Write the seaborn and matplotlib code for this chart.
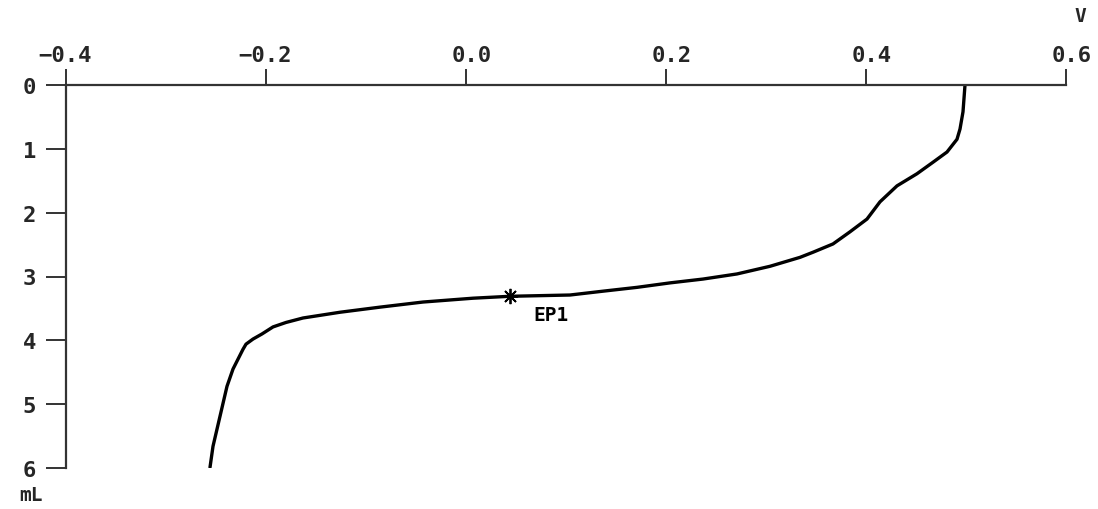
import matplotlib
matplotlib.use("Agg")
import matplotlib.pyplot as plt
import matplotlib.transforms as mtransforms
import seaborn as sns
import pandas as pd

# Titration curve: titrant volume (mL) vs. electrode potential (V)
volume_ml = [0.0, 0.42, 0.69, 0.85, 1.05, 1.21, 1.39, 1.58, 1.83, 2.10, 2.30, 2.49,
             2.62, 2.70, 2.84, 2.96, 3.04, 3.10, 3.17, 3.23, 3.29, 3.31, 3.34, 3.40,
             3.48, 3.56, 3.65, 3.72, 3.79, 3.90, 3.98, 4.06, 4.14, 4.45, 4.72, 5.19,
             5.66, 5.99]
potential_v = [0.499, 0.497, 0.494, 0.491, 0.481, 0.467, 0.451, 0.431, 0.414, 0.401,
               0.384, 0.367, 0.347, 0.334, 0.304, 0.271, 0.237, 0.204, 0.171, 0.137,
               0.104, 0.044, 0.007, -0.043, -0.086, -0.126, -0.163, -0.180, -0.193,
               -0.204, -0.213, -0.220, -0.223, -0.233, -0.239, -0.246, -0.253, -0.256]

# Equivalence point
ep_label = "EP1"
ep_volume = 3.31
ep_potential = 0.044

x_ticks = [-0.4, -0.2, 0.0, 0.2, 0.4, 0.6]
y_ticks = [0, 1, 2, 3, 4, 5, 6]

sns.set_style("white")
plt.rcParams["font.family"] = ["DejaVu Sans Mono"]
plt.rcParams["font.weight"] = "bold"

df = pd.DataFrame({"V": potential_v, "mL": volume_ml})

fig = plt.figure(figsize=(10.98, 5.10), dpi=100)
ax = fig.add_axes([66 / 1098, 1 - 469 / 510, 1000 / 1098, 383 / 510])

sns.lineplot(data=df, x="V", y="mL", sort=False, estimator=None,
             color="black", linewidth=2.4, ax=ax)

ax.plot([ep_potential], [ep_volume], marker=(8, 2, 0), markersize=11,
        markeredgewidth=1.3, color="black", linestyle="none")
ax.text(ep_potential + 0.023, ep_volume + 0.28, ep_label, fontsize=14,
        fontweight="bold", ha="left", va="center", color="black")

ax.set_xlim(-0.4, 0.6)
ax.set_ylim(6, 0)
ax.set_xticks(x_ticks)
ax.set_yticks(y_ticks)
ax.set_xticklabels([f"{t:.1f}".replace("-", "−") if t != 0 else "0.0" for t in x_ticks])
ax.set_yticklabels([str(t) for t in y_ticks])

ax.xaxis.tick_top()
ax.xaxis.set_label_position("top")
ax.set_xlabel("")
ax.set_ylabel("")

for side in ["right", "bottom"]:
    ax.spines[side].set_visible(False)
for side in ["top", "left"]:
    ax.spines[side].set_color("#333333")
    ax.spines[side].set_linewidth(1.6)

ax.tick_params(axis="x", direction="out", length=11.5, width=1.4, color="#333333",
               labelsize=16, pad=3, top=True, bottom=False, labeltop=True, labelbottom=False)
ax.tick_params(axis="y", direction="out", length=14.4, width=1.4, color="#333333",
               labelsize=16, pad=7, left=True)

# right-align tick labels just past their tick, as on the instrument printout
offset = mtransforms.ScaledTranslation(26 / 100, 0, fig.dpi_scale_trans)
for lab in ax.get_xticklabels():
    lab.set_horizontalalignment("right")
    lab.set_transform(lab.get_transform() + offset)
    lab.set_fontweight("bold")
for lab in ax.get_yticklabels():
    lab.set_fontweight("bold")

fig.text(1080 / 1098, 1 - 17 / 510, "V", fontsize=14, fontweight="bold",
         ha="center", va="center")
fig.text(31 / 1098, 1 - 496 / 510, "mL", fontsize=14, fontweight="bold",
         ha="center", va="center")

fig.savefig("out.png", dpi=100)
